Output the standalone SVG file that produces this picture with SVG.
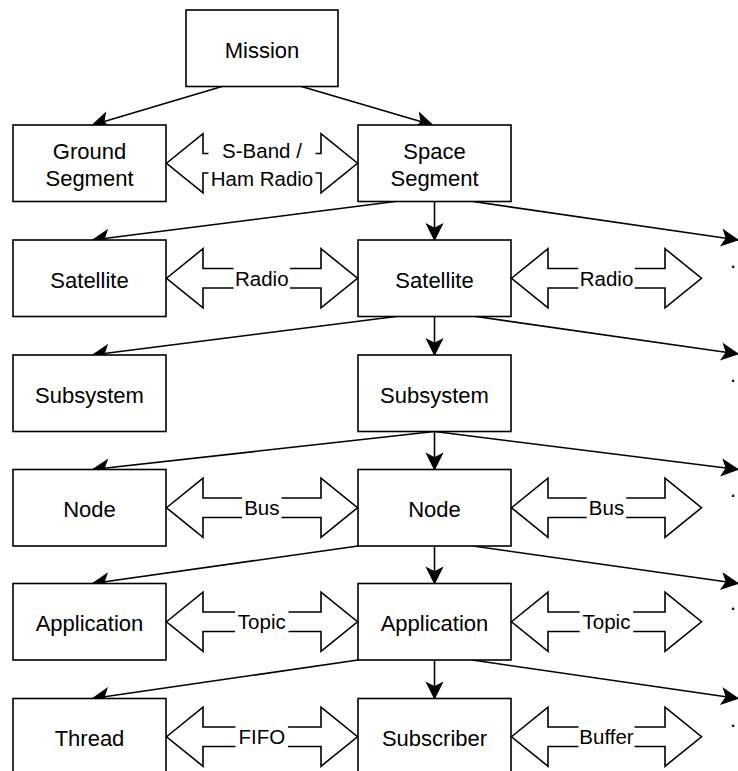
<svg xmlns="http://www.w3.org/2000/svg" width="738" height="771" viewBox="0 0 738 771">
  <style>
    .box { fill: #ffffff; stroke: #000000; stroke-width: 1.6; }
    .lbl { font-family: "Liberation Sans", Arial, sans-serif; font-size: 22px; fill: #000000; text-anchor: middle; }
    .tag { font-family: "Liberation Sans", Arial, sans-serif; font-size: 20.5px; fill: #000000; text-anchor: middle; }
    .dot { font-family: "Liberation Sans", Arial, sans-serif; font-size: 22px; fill: #000000; }
    .edge { fill: none; stroke: #000000; stroke-width: 1.6; marker-end: url(#head); }
    .dbl { fill: #ffffff; stroke: #000000; stroke-width: 1.6; stroke-linejoin: miter; }
    .bg { fill: #ffffff; stroke: none; }
  </style>
  <defs>
    <marker id="head" markerUnits="userSpaceOnUse" markerWidth="20" markerHeight="20" viewBox="-2 -2 19 19" refX="15" refY="7.5" orient="auto">
      <path d="M0,0 L15,7.5 L0,15 L3.75,7.5 Z" fill="#000000" stroke="#000000" stroke-width="1"/>
    </marker>
  </defs>
  <rect width="738" height="771" fill="#ffffff"/>

  <!-- hierarchy connectors -->
  <g id="connectors">
    <line class="edge" x1="222" y1="86.5" x2="92.5" y2="125"/>
    <line class="edge" x1="301.5" y1="86.5" x2="432.5" y2="125"/>

    <line class="edge" x1="395" y1="201.5" x2="92.5" y2="240"/>
    <line class="edge" x1="434.5" y1="201.5" x2="434.5" y2="240"/>
    <line class="edge" x1="473" y1="201.5" x2="738" y2="240"/>

    <line class="edge" x1="396" y1="316.5" x2="92.5" y2="355"/>
    <line class="edge" x1="434.5" y1="316.5" x2="434.5" y2="355"/>
    <line class="edge" x1="476" y1="316.5" x2="738" y2="354"/>

    <line class="edge" x1="434.5" y1="431.5" x2="92.5" y2="469.5"/>
    <line class="edge" x1="434.5" y1="431.5" x2="434.5" y2="469.5"/>
    <line class="edge" x1="434.5" y1="431.5" x2="738" y2="469.5"/>

    <line class="edge" x1="358" y1="546" x2="92.5" y2="583.5"/>
    <line class="edge" x1="434.5" y1="546" x2="434.5" y2="583.5"/>
    <line class="edge" x1="473" y1="546" x2="738" y2="583.5"/>

    <line class="edge" x1="358" y1="660" x2="92.5" y2="698.5"/>
    <line class="edge" x1="434.5" y1="660" x2="434.5" y2="698.5"/>
    <line class="edge" x1="472" y1="660" x2="738" y2="698.5"/>
  </g>

  <!-- nodes -->
  <g id="mission"><rect class="box" x="186" y="10" width="152" height="76.5"/><text class="lbl" x="262" y="57.7">Mission</text></g>

  <g id="ground-segment"><rect class="box" x="13" y="125" width="153" height="76.5"/><text class="lbl" x="89.5"><tspan x="89.5" y="159.3">Ground</tspan><tspan x="89.5" y="186">Segment</tspan></text></g>
  <g id="space-segment"><rect class="box" x="358" y="125" width="153" height="76.5"/><text class="lbl" x="434.5"><tspan x="434.5" y="159.3">Space</tspan><tspan x="434.5" y="186">Segment</tspan></text></g>

  <g id="satellite-a"><rect class="box" x="13" y="240" width="153" height="76.5"/><text class="lbl" x="89.5" y="287.7">Satellite</text></g>
  <g id="satellite-b"><rect class="box" x="358" y="240" width="153" height="76.5"/><text class="lbl" x="434.5" y="287.7">Satellite</text></g>

  <g id="subsystem-a"><rect class="box" x="13" y="355" width="153" height="76.5"/><text class="lbl" x="89.5" y="402.7">Subsystem</text></g>
  <g id="subsystem-b"><rect class="box" x="358" y="355" width="153" height="76.5"/><text class="lbl" x="434.5" y="402.7">Subsystem</text></g>

  <g id="node-a"><rect class="box" x="13" y="469.5" width="153" height="76.5"/><text class="lbl" x="89.5" y="517.2">Node</text></g>
  <g id="node-b"><rect class="box" x="358" y="469.5" width="153" height="76.5"/><text class="lbl" x="434.5" y="517.2">Node</text></g>

  <g id="application-a"><rect class="box" x="13" y="583.5" width="153" height="76.5"/><text class="lbl" x="89.5" y="631.2">Application</text></g>
  <g id="application-b"><rect class="box" x="358" y="583.5" width="153" height="76.5"/><text class="lbl" x="434.5" y="631.2">Application</text></g>

  <g id="thread"><rect class="box" x="13" y="698.5" width="153" height="76.5"/><text class="lbl" x="89.5" y="746.2">Thread</text></g>
  <g id="subscriber"><rect class="box" x="358" y="698.5" width="153" height="76.5"/><text class="lbl" x="434.5" y="746.2">Subscriber</text></g>

  <!-- continuation marks at the right edge -->
  <g id="more">
    <text class="dot" x="730" y="268">.</text>
    <text class="dot" x="730" y="381.5">.</text>
    <text class="dot" x="730" y="496.5">.</text>
    <text class="dot" x="730" y="609.5">.</text>
    <text class="dot" x="730" y="727">.</text>
  </g>

  <!-- two-way links between siblings -->
  <g id="link-sband">
    <polygon class="dbl" points="166.5,163.25 203,133.75 203,153.5 321,153.5 321,133.75 357.5,163.25 321,192.75 321,173 203,173 203,192.75"/>
    <rect class="bg" x="208.5" y="140" width="107" height="51"/>
    <text class="tag"><tspan x="262" y="158.3">S-Band /</tspan><tspan x="262" y="185.7">Ham Radio</tspan></text>
  </g>

  <g id="link-radio-a">
    <polygon class="dbl" points="166.5,278.25 203,248.75 203,268.5 321,268.5 321,248.75 357.5,278.25 321,307.75 321,288 203,288 203,307.75"/>
    <rect class="bg" x="233.5" y="265" width="56.5" height="26"/>
    <text class="tag" x="261.8" y="285.5">Radio</text>
  </g>
  <g id="link-radio-b">
    <polygon class="dbl" points="511.5,278.25 548,248.75 548,268.5 665,268.5 665,248.75 701.5,278.25 665,307.75 665,288 548,288 548,307.75"/>
    <rect class="bg" x="578.3" y="265" width="56.5" height="26"/>
    <text class="tag" x="606.5" y="285.5">Radio</text>
  </g>

  <g id="link-bus-a">
    <polygon class="dbl" points="166.5,507.75 203,478.25 203,498 321,498 321,478.25 357.5,507.75 321,537.25 321,517.5 203,517.5 203,537.25"/>
    <rect class="bg" x="242" y="494" width="39.5" height="27"/>
    <text class="tag" x="261.8" y="515">Bus</text>
  </g>
  <g id="link-bus-b">
    <polygon class="dbl" points="511.5,507.75 548,478.25 548,498 665,498 665,478.25 701.5,507.75 665,537.25 665,517.5 548,517.5 548,537.25"/>
    <rect class="bg" x="586.7" y="494" width="39.5" height="27"/>
    <text class="tag" x="606.5" y="515">Bus</text>
  </g>

  <g id="link-topic-a">
    <polygon class="dbl" points="166.5,621.75 203,592.25 203,612 321,612 321,592.25 357.5,621.75 321,651.25 321,631.5 203,631.5 203,651.25"/>
    <rect class="bg" x="235" y="608" width="53.5" height="27"/>
    <text class="tag" x="261.8" y="629">Topic</text>
  </g>
  <g id="link-topic-b">
    <polygon class="dbl" points="511.5,621.75 548,592.25 548,612 665,612 665,592.25 701.5,621.75 665,651.25 665,631.5 548,631.5 548,651.25"/>
    <rect class="bg" x="579.7" y="608" width="53.5" height="27"/>
    <text class="tag" x="606.5" y="629">Topic</text>
  </g>

  <g id="link-fifo">
    <polygon class="dbl" points="166.5,736.75 203,707.25 203,727 321,727 321,707.25 357.5,736.75 321,766.25 321,746.5 203,746.5 203,766.25"/>
    <rect class="bg" x="235.5" y="723" width="52.5" height="27"/>
    <text class="tag" x="261.8" y="744">FIFO</text>
  </g>
  <g id="link-buffer">
    <polygon class="dbl" points="511.5,736.75 548,707.25 548,727 665,727 665,707.25 701.5,736.75 665,766.25 665,746.5 548,746.5 548,766.25"/>
    <rect class="bg" x="578.5" y="723" width="56" height="27"/>
    <text class="tag" x="606.5" y="744">Buffer</text>
  </g>
</svg>
